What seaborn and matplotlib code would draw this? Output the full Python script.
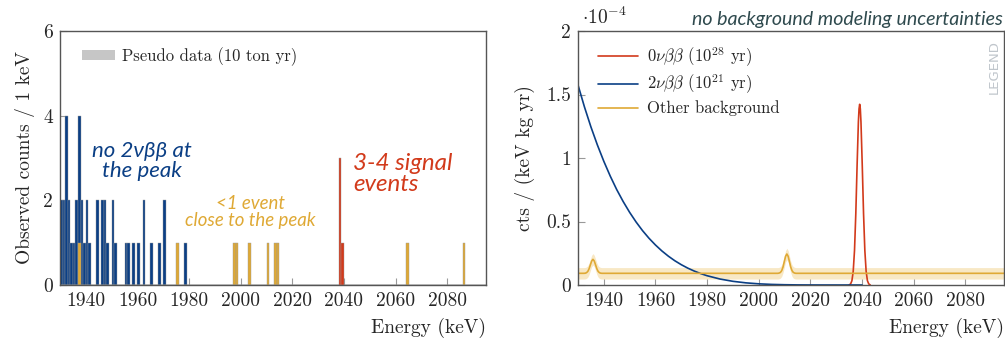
import numpy as np
import pandas as pd
import matplotlib
matplotlib.use("Agg")
import matplotlib.pyplot as plt
import seaborn as sns
from matplotlib.patches import Patch

# ---------------- data (left: pseudo data histogram, 1 keV bins) ----------------
blue_energy = [1930, 1931, 1932, 1933, 1934, 1935, 1936, 1937, 1938, 1939, 1940, 1941,
               1944, 1946, 1947, 1948, 1950, 1951, 1955, 1956, 1958, 1960, 1962, 1965,
               1968, 1970, 1978]
blue_counts = [2, 2, 4, 2, 1, 1, 2, 4, 2, 1, 2, 1,
               2, 2, 2, 1, 2, 1, 1, 1, 1, 1, 2, 1,
               1, 2, 1]
orange_energy = [1937, 1975, 1997, 1998, 2003, 2010, 2013, 2014, 2064, 2086]
orange_counts = [1, 1, 1, 1, 1, 1, 1, 1, 1, 1]
red_energy = [2038, 2039]
red_counts = [3, 1]

# ---------------- data (right: model components, units of 1e-4) ----------------
twonu_E = [1930, 1932.5, 1935, 1937.5, 1940, 1942.5, 1945, 1947.5, 1950, 1952.5, 1955,
           1957.5, 1960, 1962.5, 1965, 1967.5, 1970, 1972.5, 1975, 1977.5, 1980, 1985,
           1990, 1995, 2000, 2005, 2010, 2015, 2020, 2025, 2030, 2040]
twonu_y = [1.575, 1.402, 1.245, 1.103, 0.974, 0.857, 0.751, 0.657, 0.572, 0.496, 0.428,
           0.368, 0.315, 0.268, 0.227, 0.191, 0.160, 0.133, 0.110, 0.090, 0.073, 0.047,
           0.029, 0.017, 0.0092, 0.0046, 0.0021, 0.0008, 0.0003, 0.0001, 0.0, 0.0]

zeronu_E = [2035.0, 2035.6, 2036.1, 2036.6, 2037.1, 2037.6, 2038.1, 2038.6, 2038.85, 2039.1,
            2039.35, 2039.6, 2040.1, 2040.6, 2041.1, 2041.6, 2042.1, 2042.6, 2043.2]
zeronu_y = [0.0, 0.009, 0.034, 0.108, 0.272, 0.561, 0.941, 1.284, 1.387, 1.423,
            1.387, 1.284, 0.941, 0.561, 0.272, 0.108, 0.034, 0.009, 0.0]

other_E = [1930, 1932.3, 1932.8, 1933.3, 1933.8, 1934.3, 1934.8, 1935.3, 1935.8, 1936.3,
           1936.8, 1937.3, 1937.8, 1938.3, 1938.8, 1939.3,
           2007.4, 2007.9, 2008.4, 2008.9, 2009.4, 2009.9, 2010.4, 2010.9, 2011.4,
           2011.9, 2012.4, 2012.9, 2013.4, 2013.9, 2014.4, 2095]
other_y = [0.092, 0.092, 0.093, 0.097, 0.107, 0.128, 0.159, 0.189, 0.202, 0.189,
           0.159, 0.128, 0.107, 0.097, 0.093, 0.092,
           0.092, 0.094, 0.099, 0.113, 0.141, 0.184, 0.226, 0.244, 0.226,
           0.184, 0.141, 0.113, 0.099, 0.094, 0.092, 0.092]
other_band = 0.045  # half width of uncertainty band

xticks = [1940, 1960, 1980, 2000, 2020, 2040, 2060, 2080]
xticklabels = ["1940", "1960", "1980", "2000", "2020", "2040", "2060", "2080"]
left_yticks = [0, 2, 4, 6]
left_yticklabels = ["0", "2", "4", "6"]
right_yticks = [0, 0.5, 1, 1.5, 2]
right_yticklabels = ["0", "0.5", "1", "1.5", "2"]

# ---------------- style ----------------
sns.set_theme(style="white")
plt.rcParams["font.family"] = ["cmr10", "DejaVu Serif"]
plt.rcParams["mathtext.fontset"] = "cm"
plt.rcParams["axes.unicode_minus"] = False

C_BLUE = "#0b3f85"
C_ORANGE = "#dfa935"
C_RED = "#d23a1b"
C_BAND = "#f8e8c5"
SPINE = "#555555"
FS = 14
HAND = dict(family=["Lato", "DejaVu Sans"], style="italic")

W, H = 1005, 338
fig = plt.figure(figsize=(W / 100, H / 100), dpi=100)
ax1 = fig.add_axes([60 / W, 53 / H, 426 / W, 254 / H])
ax2 = fig.add_axes([578 / W, 53 / H, 426 / W, 254 / H])

df_b = pd.DataFrame({"E": np.array(blue_energy, dtype=float) + 0.5, "n": blue_counts})
df_o = pd.DataFrame({"E": np.array(orange_energy, dtype=float) + 0.5, "n": orange_counts})
df_r = pd.DataFrame({"E": np.array(red_energy, dtype=float) + 0.5, "n": red_counts})

for df, col in [(df_b, C_BLUE), (df_o, C_ORANGE), (df_r, C_RED)]:
    sns.histplot(data=df, x="E", weights="n", binwidth=1, binrange=(1930, 2095), ax=ax1,
                 color=col, alpha=1.0, edgecolor="#9a9a9a", linewidth=0.3)

ax1.set_xlim(1930, 2095)
ax1.set_ylim(0, 6)
ax1.set_xticks(xticks)
ax1.set_xticklabels(xticklabels)
ax1.set_yticks(left_yticks)
ax1.set_yticklabels(left_yticklabels)
ax1.set_ylabel("Observed counts / 1 keV", fontsize=FS, labelpad=6)
ax1.set_xlabel("Energy (keV)", fontsize=FS, loc="right", labelpad=6)
ax1.legend(handles=[Patch(facecolor="#c6c6c6", edgecolor="none",
                          label="Pseudo data (10 ton yr)")],
           loc="upper left", frameon=False, fontsize=12,
           handlelength=2.0, handleheight=0.6, borderaxespad=0.4, handletextpad=0.4,
           bbox_to_anchor=(0.02, 0.99))

# handwritten notes: (text, centre/left x px, centre y px, target width of widest line px)
fig.canvas.draw()
rend = fig.canvas.get_renderer()


def hand_note(s, x, y, target_w, color, ha="center", widest=None):
    t = fig.text(x / W, 1 - y / H, s, color=color, fontsize=14, ha=ha, va="center",
                 linespacing=1.0, **HAND)
    probe = fig.text(0, 0, widest if widest else s, fontsize=14, **HAND)
    w = probe.get_window_extent(rend).width
    probe.remove()
    t.set_fontsize(14 * target_w / w)
    return t


hand_note("no 2νββ at\nthe peak", 142, 161, 100, C_BLUE, widest="no 2νββ at")
hand_note("<1 event\nclose to the peak", 250, 212, 131, C_ORANGE,
          widest="close to the peak")
hand_note("3-4 signal\nevents", 353, 174, 100, C_RED, ha="left", widest="3-4 signal")
hand_note("no background modeling uncertainties", 1003, 19, 313, "#2f4a4e", ha="right")

# right panel
ax2.fill_between(other_E, np.array(other_y) - other_band, np.array(other_y) + other_band,
                 color=C_BAND, linewidth=0)
sns.lineplot(x=zeronu_E, y=zeronu_y, ax=ax2, color=C_RED, linewidth=1.2,
             label=r"$0\nu\beta\beta$ ($10^{28}$ yr)")
sns.lineplot(x=twonu_E, y=twonu_y, ax=ax2, color=C_BLUE, linewidth=1.2,
             label=r"$2\nu\beta\beta$ ($10^{21}$ yr)")
sns.lineplot(x=other_E, y=other_y, ax=ax2, color=C_ORANGE, linewidth=1.2,
             label="Other background")
ax2.set_xlim(1930, 2095)
ax2.set_ylim(0, 2)
ax2.set_xticks(xticks)
ax2.set_xticklabels(xticklabels)
ax2.set_yticks(right_yticks)
ax2.set_yticklabels(right_yticklabels)
ax2.set_ylabel("cts / (keV kg yr)", fontsize=FS, labelpad=8)
ax2.set_xlabel("Energy (keV)", fontsize=FS, loc="right", labelpad=6)
ax2.legend(loc="upper left", frameon=False, fontsize=12, handlelength=2.4,
           borderaxespad=0.3, bbox_to_anchor=(0.02, 0.99), labelspacing=0.25,
           handletextpad=0.5)
ax2.text(0.01, 1.01, r"$\cdot 10^{-4}$", transform=ax2.transAxes, fontsize=FS,
         ha="left", va="bottom")
ax2.text(0.977, 0.858, "LEGEND", transform=ax2.transAxes, rotation=90, fontsize=9.5,
         color="#c0c6cc", ha="center", va="center", family="DejaVu Sans")

for ax in (ax1, ax2):
    for s in ax.spines.values():
        s.set_color(SPINE)
        s.set_linewidth(1.0)
    ax.tick_params(direction="in", length=5, width=0.8, color="#999999",
                   labelsize=FS, pad=5, top=False, right=False, bottom=True, left=True)

fig.savefig("out.png", dpi=100)
